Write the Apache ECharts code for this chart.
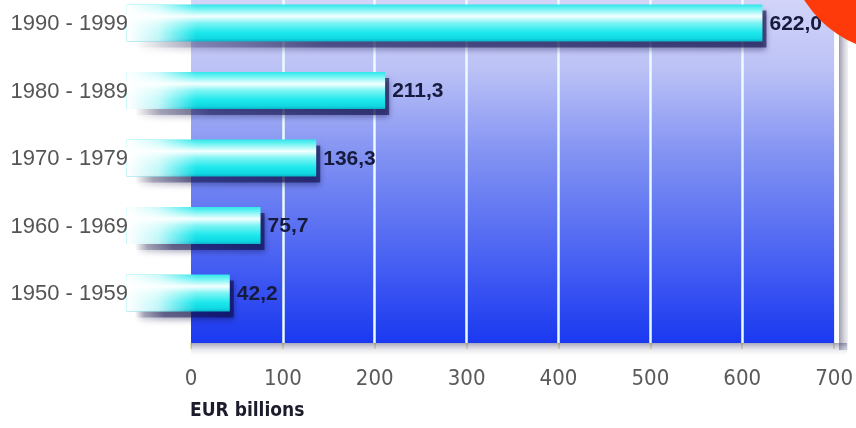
<!DOCTYPE html>
<html>
<head>
<meta charset="utf-8">
<script src="https://cdn.jsdelivr.net/npm/echarts@6/dist/echarts.min.js"></script>
<style>
html,body{margin:0;padding:0;background:#fff;}
#c{width:856px;height:428px;}
</style>
</head>
<body>
<div id="c"></div>
<script>
// ---- data ----
const categories = ['1990 - 1999', '1980 - 1989', '1970 - 1979', '1960 - 1969', '1950 - 1959'];
const values = [622.0, 211.3, 136.3, 75.7, 42.2];
const xTicks = [0, 100, 200, 300, 400, 500, 600, 700];
const gridLineValues = [100, 200, 300, 400, 500, 600];
const axisTitle = 'EUR billions';

const LEAD_START = -70; // where the glowing bar body begins (axis units)

const chart = echarts.init(document.getElementById('c'), null, {renderer: 'canvas'});

const barData = values.map((v, i) => [v, i]);
const fmt = v => v.toFixed(1).replace('.', ',');
const FONT = 'Liberation Sans, Arial, sans-serif';
const NARROW = 'DejaVu Sans Condensed, Liberation Sans, sans-serif';

function renderBar(params, api) {
  const v = api.value(0), i = api.value(1);
  const end = api.coord([v, i]);
  const zero = api.coord([0, i]);
  const start = api.coord([LEAD_START, i]);
  const fadeEnd = api.coord([6, i]);
  const band = api.size([0, 1])[1];
  const h = band * 0.55;
  const y = end[1] - h / 2;
  const vert = new echarts.graphic.LinearGradient(0, 0, 0, 1, [
    {offset: 0, color: '#2ee6ea'},
    {offset: 0.12, color: '#6ff3f3'},
    {offset: 0.32, color: '#f4ffff'},
    {offset: 0.5, color: '#7ff4f4'},
    {offset: 0.75, color: '#1ee8ec'},
    {offset: 0.92, color: '#10d8e2'},
    {offset: 1, color: '#0ab4c8'}
  ]);
  const horiz = new echarts.graphic.LinearGradient(0, 0, 1, 0, [
    {offset: 0, color: 'rgba(255,255,255,1)'},
    {offset: 0.45, color: 'rgba(255,255,255,0.75)'},
    {offset: 1, color: 'rgba(255,255,255,0)'}
  ]);
  const shadowFill = new echarts.graphic.LinearGradient(0, 0, 1, 0, [
    {offset: 0, color: 'rgba(90,90,110,0)'},
    {offset: 0.1, color: 'rgba(60,60,100,0.3)'},
    {offset: 0.3, color: 'rgba(20,20,80,0.5)'},
    {offset: 1, color: 'rgba(10,10,70,0.6)'}
  ]);
  return {
    type: 'group',
    children: [
      {type: 'rect', shape: {x: start[0] + 8, y: y + 6, width: end[0] - start[0] - 4, height: h},
       style: {fill: shadowFill, shadowBlur: 6, shadowOffsetY: 2, shadowColor: 'rgba(10,10,70,0.7)'}},
      {type: 'rect', shape: {x: start[0], y: y, width: end[0] - start[0], height: h},
       style: {fill: vert}},
      {type: 'rect', shape: {x: start[0], y: y, width: fadeEnd[0] - start[0], height: h},
       style: {fill: horiz}},
      {type: 'text', style: {text: categories[i], x: zero[0] - 63, y: end[1] + 1,
        verticalAlign: 'middle', align: 'right',
        fontFamily: FONT, fontSize: 22, fill: '#555555'}},
      {type: 'text', style: {text: fmt(v), x: end[0] + 7, y: end[1] + 1,
        verticalAlign: 'middle', align: 'left',
        fontFamily: FONT, fontWeight: 'bold', fontSize: 21, fill: '#161a3c'}}
    ]
  };
}

const option = {
  animation: false,
  backgroundColor: '#ffffff',
  grid: {left: 191, right: 17, top: 0, bottom: 85, show: true, borderWidth: 0,
     backgroundColor: new echarts.graphic.LinearGradient(0, 0, 0, 1, [
       {offset: 0, color: '#d2d4f8'},
       {offset: 0.2, color: '#bcc2f6'},
       {offset: 0.45, color: '#8292f2'},
       {offset: 0.75, color: '#4a62f2'},
       {offset: 1, color: '#1a38f0'}
     ])},
  xAxis: {type: 'value', min: xTicks[0], max: xTicks[xTicks.length - 1], interval: 100,
     axisLine: {show: false, onZero: false},
     axisTick: {show: true, length: 6, lineStyle: {color: '#e4e0b0', width: 2}},
     splitLine: {show: false},
     axisLabel: {color: '#5a5a5a', fontSize: 22, margin: 25, fontFamily: NARROW}},
  // positions of the category rows (0 = top row); not a visible axis
  yAxis: {type: 'value', inverse: true, min: -0.34, max: 4.74, show: false},
  series: [
    {type: 'line', data: [], silent: true,
     markLine: {silent: true, symbol: 'none', label: {show: false},
       lineStyle: {color: '#eafcff', width: 2.5, type: 'solid'},
       data: gridLineValues.map(v => ({xAxis: v}))}},
    {type: 'custom', data: barData, clip: false,
     encode: {x: 0, y: 1}, renderItem: renderBar, z: 5}
  ],
  graphic: [
    {type: 'rect', z: 1, silent: true, shape: {x: 839, y: 0, width: 9, height: 350},
     style: {fill: new echarts.graphic.LinearGradient(0, 0, 1, 0, [
       {offset: 0, color: '#9c9cae'}, {offset: 1, color: 'rgba(230,230,235,0.6)'}])}},
    {type: 'rect', z: 1, silent: true, shape: {x: 191, y: 343, width: 656, height: 14},
     style: {fill: new echarts.graphic.LinearGradient(0, 0, 0, 1, [
       {offset: 0, color: 'rgba(60,60,110,0.45)'}, {offset: 1, color: 'rgba(255,255,255,0)'}])}},
    {type: 'text', left: 190, top: 402, silent: true,
     style: {text: axisTitle, fill: '#1c1c2c', fontWeight: 'bold', fontSize: 19, fontFamily: NARROW}},
    {type: 'circle', z: 100, silent: true, shape: {cx: 900, cy: -60, r: 113},
     style: {fill: '#ff3a0a'}}
  ]
};
chart.setOption(option);
</script>
</body>
</html>
